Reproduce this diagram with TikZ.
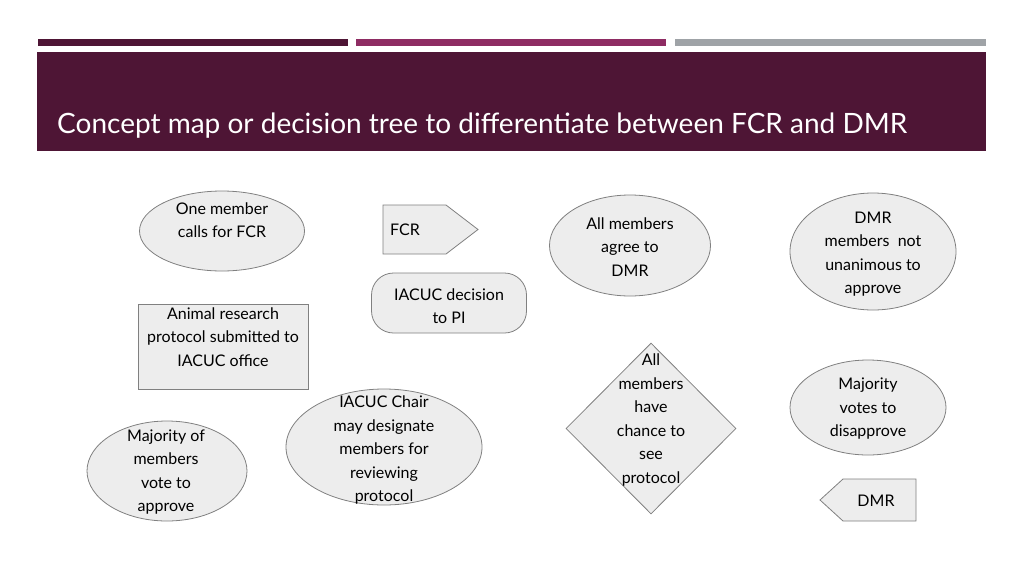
\documentclass[tikz,border=0pt]{standalone}
\usepackage{fontspec}
\setmainfont{Lato}
\usepackage{xcolor}
\usetikzlibrary{shapes.geometric,positioning}

\definecolor{maroon}{HTML}{4E1535}
\definecolor{berry}{HTML}{8E2C63}
\definecolor{slate}{HTML}{9FA3A7}
\definecolor{shapefill}{HTML}{EDEDED}
\definecolor{shapeline}{HTML}{808080}

\begin{document}
\begin{tikzpicture}[
    x=1pt, y=-1pt,
    shapebase/.style={draw=shapeline, fill=shapefill, line width=0.8pt, inner sep=0pt},
    cloud/.style={shapebase, ellipse},
    block/.style={shapebase, rectangle},
    decision/.style={shapebase, diamond},
    terminal/.style={shapebase, rectangle, rounded corners=22pt},
    txt/.style={align=center, inner sep=0pt, font=\fontsize{16}{23.5}\selectfont}
]
\useasboundingbox (0,0) rectangle (1024,576);

% header bars and title band
\fill[maroon] (38,39) rectangle (348,46);
\fill[berry] (356,39) rectangle (666,46);
\fill[slate] (675,39) rectangle (986,46);
\fill[maroon] (37,52) rectangle (986,151);
\node[anchor=base west, inner sep=0pt, text=white, font=\fontsize{28}{32}\selectfont]
    (title) at (57,133) {Concept map or decision tree to differentiate between FCR and DMR};

% shapes
\node[cloud, minimum width=165pt, minimum height=80pt] (oneMember) at (222,231) {};
\node[txt] (oneMemberTxt) at (222,220) {One member\\calls for FCR};

\filldraw[draw=shapeline, fill=shapefill, line width=0.8pt]
    (383,205) coordinate (fcrNW) -- (446,205) -- (478,229.5) coordinate (fcrTip)
    -- (446,254) -- (383,254) -- cycle;
\node[txt, anchor=west] (fcrTxt) at (390,230) {FCR};

\node[terminal, minimum width=155pt, minimum height=60pt] (decisionPI) at (449,303) {};
\node[txt] (decisionPITxt) at (449,306) {IACUC decision\\to PI};

\node[block, minimum width=170pt, minimum height=85pt] (submitted) at (223,346.5) {};
\node[txt] (submittedTxt) at (223,337) {Animal research\\protocol submitted to\\IACUC office};

\node[cloud, minimum width=161pt, minimum height=101pt] (allAgree) at (630,245.5) {};
\node[txt] (allAgreeTxt) at (630,247) {All members\\agree to\\DMR};

\node[cloud, minimum width=166pt, minimum height=117pt] (notUnanimous) at (873,251.5) {};
\node[txt] (notUnanimousTxt) at (873,254) {DMR\\members~ not\\unanimous to\\approve};

\node[decision, minimum width=170pt, minimum height=171pt] (allSee) at (651,428.5) {};
\node[txt] (allSeeTxt) at (651,420) {All\\members\\have\\chance to\\see\\protocol};

\node[cloud, minimum width=156pt, minimum height=95pt] (disapprove) at (868,407.5) {};
\node[txt] (disapproveTxt) at (868,409) {Majority\\votes to\\disapprove};

\filldraw[draw=shapeline, fill=shapefill, line width=0.8pt]
    (916,479) coordinate (dmrNE) -- (843,479) -- (820,500) coordinate (dmrTip)
    -- (843,521) -- (916,521) -- cycle;
\node[txt] (dmrTxt) at (876,501) {DMR};

\node[cloud, minimum width=160pt, minimum height=100pt] (approve) at (167,471) {};
\node[txt] (approveTxt) at (166,472) {Majority of\\members\\vote to\\approve};

\node[cloud, minimum width=196pt, minimum height=116pt] (chair) at (384,447) {};
\node[txt] (chairTxt) at (384,450) {IACUC Chair\\may designate\\members for\\reviewing\\protocol};

\end{tikzpicture}
\end{document}
